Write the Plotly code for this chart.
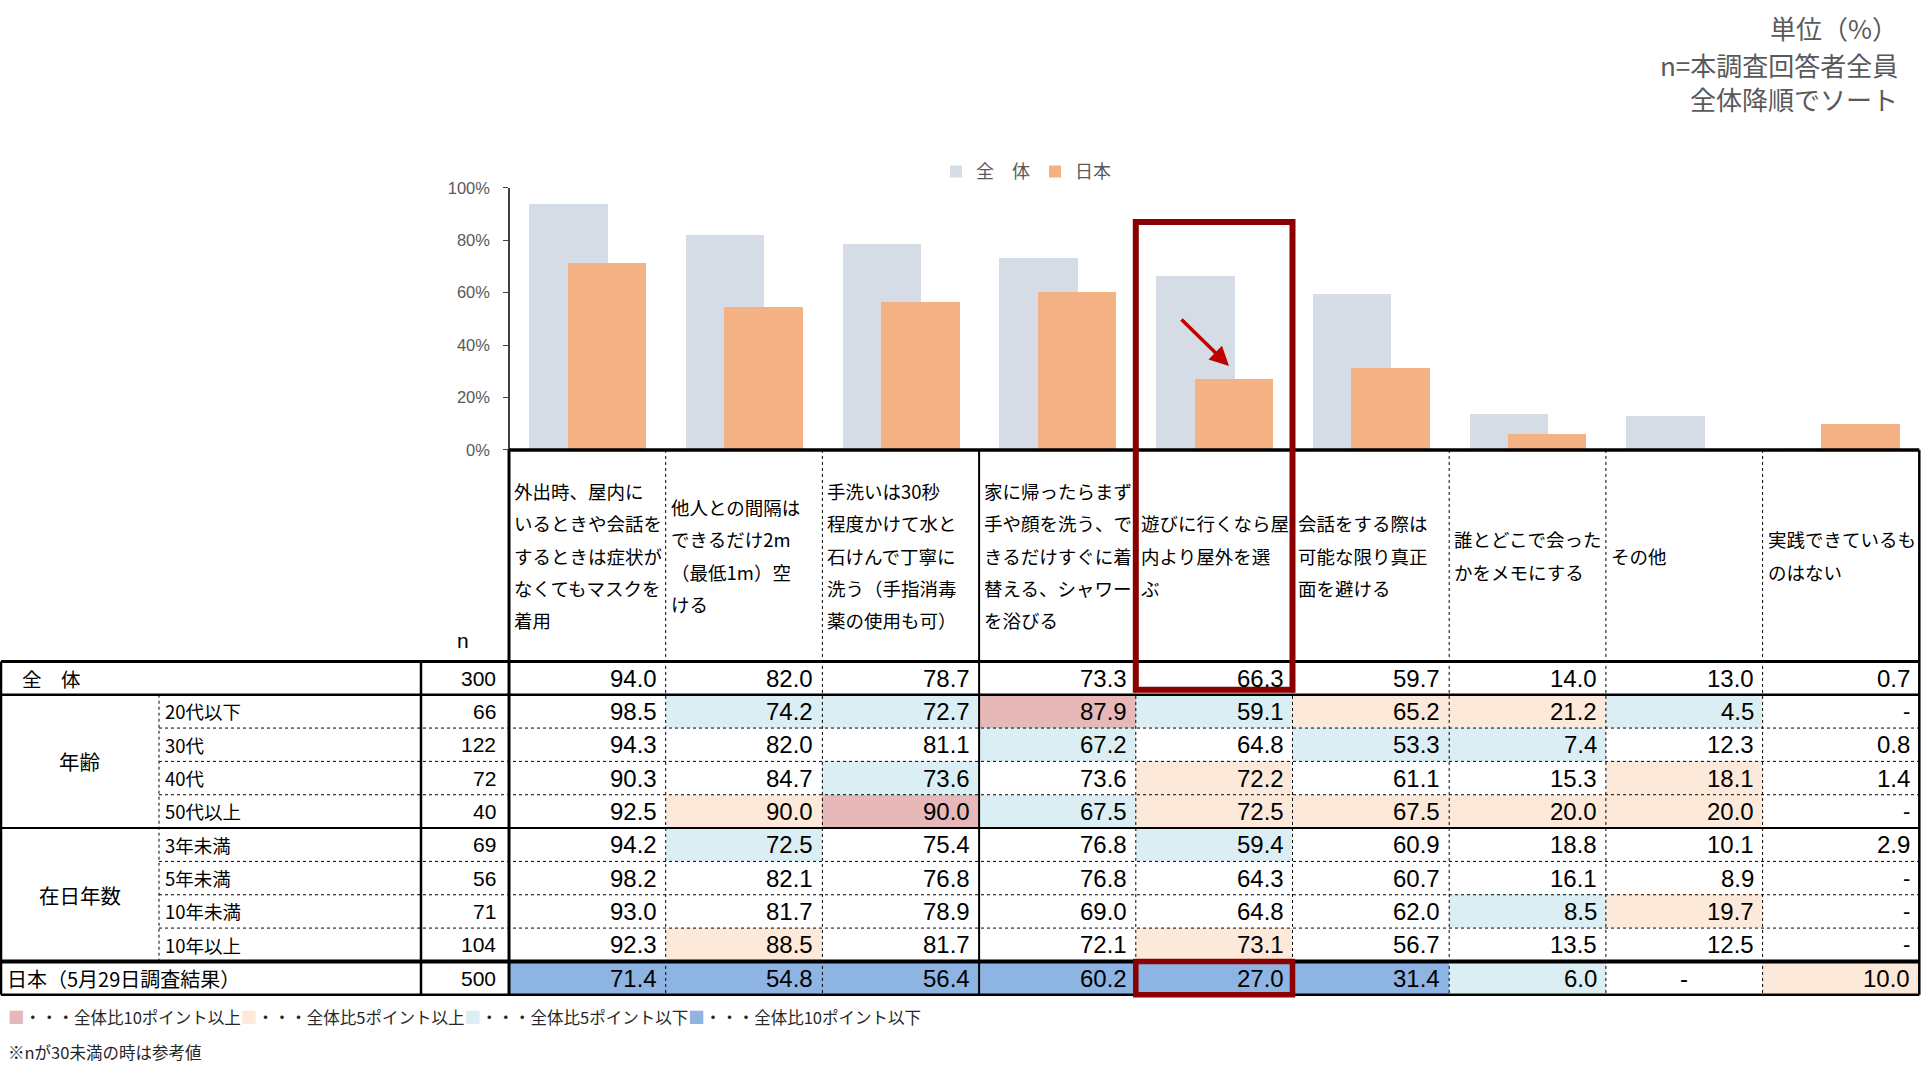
import plotly.graph_objects as go

# ---------------- data ----------------
categories = [
    "外出時、屋内に\nいるときや会話を\nするときは症状が\nなくてもマスクを\n着用",
    "他人との間隔は\nできるだけ2m\n（最低1m）空\nける",
    "手洗いは30秒\n程度かけて水と\n石けんで丁寧に\n洗う（手指消毒\n薬の使用も可）",
    "家に帰ったらまず\n手や顔を洗う、で\nきるだけすぐに着\n替える、シャワー\nを浴びる",
    "遊びに行くなら屋\n内より屋外を選\nぶ",
    "会話をする際は\n可能な限り真正\n面を避ける",
    "誰とどこで会った\nかをメモにする",
    "その他",
    "実践できているも\nのはない",
]

row_labels = ["全　体", "20代以下", "30代", "40代", "50代以上",
              "3年未満", "5年未満", "10年未満", "10年以上",
              "日本（5月29日調査結果）"]
group_labels = ["年齢", "在日年数"]
group_rows = [(1, 4), (5, 8)]
n_values = [300, 66, 122, 72, 40, 69, 56, 71, 104, 500]

total    = [94.0, 82.0, 78.7, 73.3, 66.3, 59.7, 14.0, 13.0, 0.7]
age_20   = [98.5, 74.2, 72.7, 87.9, 59.1, 65.2, 21.2, 4.5, None]
age_30   = [94.3, 82.0, 81.1, 67.2, 64.8, 53.3, 7.4, 12.3, 0.8]
age_40   = [90.3, 84.7, 73.6, 73.6, 72.2, 61.1, 15.3, 18.1, 1.4]
age_50   = [92.5, 90.0, 90.0, 67.5, 72.5, 67.5, 20.0, 20.0, None]
stay_3   = [94.2, 72.5, 75.4, 76.8, 59.4, 60.9, 18.8, 10.1, 2.9]
stay_5   = [98.2, 82.1, 76.8, 76.8, 64.3, 60.7, 16.1, 8.9, None]
stay_10u = [93.0, 81.7, 78.9, 69.0, 64.8, 62.0, 8.5, 19.7, None]
stay_10o = [92.3, 88.5, 81.7, 72.1, 73.1, 56.7, 13.5, 12.5, None]
japan    = [71.4, 54.8, 56.4, 60.2, 27.0, 31.4, 6.0, None, 10.0]

rows = [total, age_20, age_30, age_40, age_50, stay_3, stay_5, stay_10u, stay_10o, japan]
highlight_col = 4

y_ticks = [0, 20, 40, 60, 80, 100]
y_ticktext = ["0%", "20%", "40%", "60%", "80%", "100%"]

# ---------------- styles / layout constants ----------------
W, H = 1923, 1082
# vertical positions below are measured on the picture; the picture maps page y as
# y_pic = PIC_B + PIC_A * y_page
PIC_A, PIC_B = 0.9837, 8.9
COL_W = 156.7
CAT_X0 = 509.0
ROW_H = 33.35
ROW_Y0 = 661.5
HDR_Y0 = 450.0
BAR_TOP = 187.7

JP = "Noto Sans CJK JP"
NUM = "Liberation Sans, Arial, Noto Sans CJK JP"
GREY_TXT = "#595959"
C_TOTAL = "#D6DCE5"
C_JAPAN = "#F4B183"
C_RED = "#E6B8B7"
C_PEACH = "#FDE9D9"
C_LBLUE = "#DAEEF3"
C_BLUE = "#8DB4E2"
C_FRAME = "#8B0000"


def Y(q):
    return (q - PIC_B) / PIC_A


def fx(p):
    return -0.5 + (p - CAT_X0) / COL_W


def fy(q):
    return -0.5 + (q - ROW_Y0) / ROW_H


def px(p):
    return p / W


def py(q):
    return 1 - Y(q) / H


xs = list(range(len(categories)))
fig = go.Figure()

fig.add_trace(go.Bar(x=xs, y=total, name="全　体", width=0.5, offset=-0.37,
                     marker=dict(color=C_TOTAL, line=dict(width=0)),
                     xaxis="x", yaxis="y", hoverinfo="skip"))
fig.add_trace(go.Bar(x=xs, y=japan, name="日本", width=0.5, offset=-0.125,
                     marker=dict(color=C_JAPAN, line=dict(width=0)),
                     xaxis="x", yaxis="y", hoverinfo="skip"))

# cell colours (rule from the legend: difference vs 全体)
z = []
for r, row in enumerate(rows):
    zr = []
    for c, v in enumerate(row):
        code = None
        if r > 0 and v is not None:
            d = v - total[c]
            if d >= 10:
                code = 1
            elif d >= 5:
                code = 2
            elif d <= -10:
                code = 4
            elif d <= -5:
                code = 3
        zr.append(code)
    z.append(zr)

fig.add_trace(go.Heatmap(
    x=xs, y=list(range(len(rows))), z=z, zmin=0.5, zmax=4.5, showscale=False,
    colorscale=[[0, C_RED], [0.25, C_RED], [0.25, C_PEACH], [0.5, C_PEACH],
                [0.5, C_LBLUE], [0.75, C_LBLUE], [0.75, C_BLUE], [1, C_BLUE]],
    xaxis="x", yaxis="y2", hoverinfo="skip", xgap=0, ygap=0))

shapes = []
annotations = []


def hline(y, x0, x1, width=1.0, dash="solid", color="black"):
    shapes.append(dict(type="line", xref="x", yref="y2", x0=x0, x1=x1, y0=y, y1=y,
                       line=dict(color=color, width=width, dash=dash)))


def vline(x, y0, y1, width=1.0, dash="solid", color="black"):
    shapes.append(dict(type="line", xref="x", yref="y2", x0=x, x1=x, y0=y0, y1=y1,
                       line=dict(color=color, width=width, dash=dash)))


nrows = len(rows)
ncols = len(categories)
x_left = fx(1)
x_grp = fx(159)
x_sub = fx(421)
x_right = ncols - 0.5
y_hdr = fy(HDR_Y0)

hline(y_hdr, -0.5, x_right, width=3.5)
hline(-0.5, x_left, x_right, width=3)
hline(0.5, x_left, x_right, width=2.5)
for (a, b) in group_rows:
    for r in range(a, b):
        hline(r + 0.5, x_grp, x_right, width=1, dash="dot")
hline(group_rows[0][1] + 0.5, x_left, x_right, width=2)
hline(nrows - 1.5, x_left, x_right, width=4)
hline(nrows - 0.5, x_left, x_right, width=2.5)

vline(x_left, -0.5, nrows - 0.5, width=2.5)
vline(x_grp, 0.5, nrows - 1.5, width=1, dash="dot")
vline(x_sub, -0.5, nrows - 0.5, width=2.5)
vline(-0.5, y_hdr, nrows - 0.5, width=3)
for c in range(ncols - 1):
    if c == 2:
        vline(c + 0.5, y_hdr, nrows - 0.5, width=2)
    else:
        vline(c + 0.5, y_hdr, nrows - 0.5, width=1, dash="dot")
vline(x_right, y_hdr, nrows - 0.5, width=2.5)

shapes.append(dict(type="rect", xref="x", yref="y2",
                   x0=highlight_col - 0.5, x1=highlight_col + 0.5,
                   y0=fy(222), y1=fy(690), line=dict(color=C_FRAME, width=6)))
shapes.append(dict(type="rect", xref="x", yref="y2",
                   x0=highlight_col - 0.5, x1=highlight_col + 0.5,
                   y0=nrows - 1.5, y1=nrows - 0.5, line=dict(color=C_FRAME, width=5.5)))


def ann(x, y, text, xanchor="left", size=18, family=JP, color="black",
        xref="x", yref="y2", yanchor="middle"):
    annotations.append(dict(x=x, y=y, xref=xref, yref=yref, text=text,
                            showarrow=False, xanchor=xanchor, yanchor=yanchor,
                            font=dict(family=family, size=size, color=color)))


HDR_CY = 555.6
HDR_LH = 32.2
for c, lab in enumerate(categories):
    lines = lab.split("\n")
    n = len(lines)
    for k, ln in enumerate(lines):
        q = HDR_CY + (k - (n - 1) / 2) * HDR_LH
        ann(c - 0.5 + 3 / COL_W, fy(q), ln, size=18.5)
ann(fx(463), fy(641), "n", xanchor="center", size=21, family=NUM)

for r, lab in enumerate(row_labels):
    if r == 0:
        ann(fx(20), r, lab, size=19.5)
    elif r == nrows - 1:
        ann(fx(5), r, lab, size=20)
    else:
        ann(fx(163), r, lab, size=18.5)
for g, (a, b) in zip(group_labels, group_rows):
    ann((fx(0) + x_grp) / 2, (a + b) / 2, g, xanchor="center", size=20.5)

for r, nv in enumerate(n_values):
    ann(fx(498), r, str(nv), xanchor="right", size=21, family=NUM)

for r, row in enumerate(rows):
    for c, v in enumerate(row):
        if v is None:
            if r == nrows - 1:
                ann(c, r, "-", xanchor="center", size=24, family=NUM)
            else:
                ann(c + 0.5 - 7 / COL_W, r, "-", xanchor="right", size=22, family=NUM)
        else:
            ann(c + 0.5 - 7 / COL_W, r, f"{v:.1f}", xanchor="right", size=24, family=NUM)

annotations.append(dict(x=fx(1229), y=(HDR_Y0 - 366) / (HDR_Y0 - BAR_TOP) * 100,
                        ax=fx(1180), ay=(HDR_Y0 - 318) / (HDR_Y0 - BAR_TOP) * 100,
                        xref="x", yref="y", axref="x", ayref="y", text="",
                        showarrow=True, arrowhead=2, arrowsize=1.1, arrowwidth=3.5,
                        arrowcolor="#C00000", standoff=0, startstandoff=0))

for q, t in [(27, "単位（%）"), (64, "n=本調査回答者全員"), (98, "全体降順でソート")]:
    ann(px(1900), py(q), t, xanchor="right", size=26, color=GREY_TXT,
        xref="paper", yref="paper")

foot = ("<span style='color:%s'>■</span>・・・全体比10ポイント以上"
        "<span style='color:%s'>■</span>・・・全体比5ポイント以上"
        "<span style='color:%s'>■</span>・・・全体比5ポイント以下"
        "<span style='color:%s'>■</span>・・・全体比10ポイント以下") % (C_RED, C_PEACH, C_LBLUE, C_BLUE)
ann(px(6), py(1017), foot, size=16.5, color="#262626", xref="paper", yref="paper")
ann(px(6), py(1052), "※nが30未満の時は参考値", size=16.5, color="#262626",
    xref="paper", yref="paper")

fig.update_layout(
    width=W, height=H, margin=dict(l=0, r=0, t=0, b=0),
    paper_bgcolor="white", plot_bgcolor="rgba(0,0,0,0)",
    barmode="overlay", bargap=0,
    xaxis=dict(domain=[0, 1], range=[fx(0), fx(W)], visible=False, fixedrange=True),
    yaxis=dict(domain=[py(HDR_Y0), py(BAR_TOP)], range=[0, 100],
               anchor="free", position=px(CAT_X0), tickmode="array",
               tickvals=y_ticks, ticktext=y_ticktext,
               showline=True, linecolor="#404040", linewidth=1.5, ticks="outside",
               ticklen=5, tickcolor="#404040", tickwidth=1.2, ticklabelstandoff=10,
               tickfont=dict(family=NUM, size=16.5, color=GREY_TXT),
               showgrid=False, zeroline=False, fixedrange=True),
    yaxis2=dict(domain=[0, 1], range=[fy(PIC_B + PIC_A * H), fy(PIC_B)], visible=False,
                anchor="x", fixedrange=True),
    showlegend=True,
    legend=dict(orientation="h", x=px(1026), xanchor="center", y=py(171.7),
                yanchor="middle", font=dict(family=JP, size=18, color=GREY_TXT),
                bgcolor="rgba(0,0,0,0)", itemclick=False, itemdoubleclick=False),
    shapes=shapes, annotations=annotations,
)

fig.write_html("out.html", config={"displayModeBar": False},
               post_script="document.body.style.margin='0';document.body.style.overflow='hidden';")
